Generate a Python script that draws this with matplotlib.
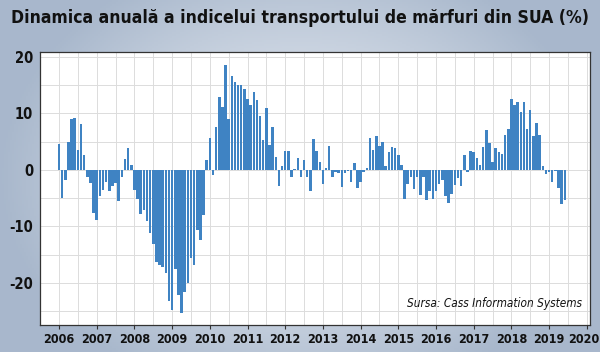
import numpy as np
import matplotlib
matplotlib.use("Agg")
import matplotlib.pyplot as plt
import matplotlib.transforms as mtransforms
from matplotlib.ticker import MultipleLocator

plt.rcParams["axes.unicode_minus"] = False

# annual change of the US freight index, monthly, Jan 2006 - Jun 2019 (%)
start_year = 2006
values_2006 = [4.6, -5.0, -1.8, 4.9, 9.0, 9.2, 3.5, 8.1, 2.6, -1.3, -2.4, -7.6]
values_2007 = [-8.9, -4.7, -3.6, -2.2, -3.8, -2.8, -2.3, -5.5, -1.3, 1.9, 3.9, 0.9]
values_2008 = [-3.6, -5.2, -7.8, -7.1, -9.1, -11.1, -13.1, -16.3, -16.8, -17.2, -18.3, -23.2]
values_2009 = [-24.7, -17.5, -22.2, -25.3, -21.5, -20.0, -15.6, -16.8, -10.6, -12.4, -7.9, 1.8]
values_2010 = [5.6, -0.9, 7.6, 12.9, 11.1, 18.6, 8.9, 16.6, 15.6, 15.0, 15.0, 14.2]
values_2011 = [12.6, 11.5, 13.8, 12.4, 9.5, 5.3, 11.0, 4.4, 7.6, 2.2, -2.9, 0.6]
values_2012 = [3.4, 3.4, -1.3, 0.1, 2.1, -1.3, 1.8, -1.2, -3.8, 5.4, 3.4, 1.4]
values_2013 = [-2.5, 0.3, 4.2, -1.3, -0.3, -0.5, -3.1, -0.5, -0.2, -2.1, 1.2, -3.2]
values_2014 = [-2.1, -0.3, 0.3, 5.6, 3.5, 6.0, 4.2, 4.9, 0.6, 3.2, 4.1, 3.8]
values_2015 = [2.6, 0.9, -5.1, -2.5, -1.2, -3.4, -1.2, -4.5, -1.3, -5.3, -3.8, -5.2]
values_2016 = [-3.8, -2.5, -1.8, -4.7, -5.8, -4.2, -2.6, -1.5, -2.9, 2.6, -0.4, 3.4]
values_2017 = [3.1, 2.0, 0.9, 4.0, 7.1, 4.7, 1.3, 3.8, 3.2, 2.8, 6.2, 7.2]
values_2018 = [12.6, 11.4, 12.0, 10.3, 11.9, 7.2, 10.6, 6.0, 8.2, 6.2, 0.6, -0.7]
values_2019 = [-0.3, -2.1, -0.2, -3.2, -6.0, -5.3]

values = (values_2006 + values_2007 + values_2008 + values_2009 + values_2010
          + values_2011 + values_2012 + values_2013 + values_2014 + values_2015
          + values_2016 + values_2017 + values_2018 + values_2019)
months = start_year + np.arange(len(values)) / 12.0
year_ticks = list(range(2006, 2021))
y_ticks = [-20, -10, 0, 10, 20]

title = "Dinamica anuală a indicelui transportului de mărfuri din SUA (%)"
source = "Sursa: Cass Information Systems"

bar_color = "#3f83c3"
font_kw = dict(family="DejaVu Sans", fontstretch="condensed")

fig = plt.figure(figsize=(6.0, 3.52), dpi=100)

# gradient backdrop: light in the middle, bluish grey at the edges
bg = fig.add_axes([0, 0, 1, 1], zorder=0)
gx, gy = np.meshgrid(np.linspace(-1, 1, 300), np.linspace(-1, 1, 176))
dist = np.clip(np.sqrt(gx ** 2 + (gy / 1.3) ** 2), 0, 1)
light = np.array([0.89, 0.91, 0.94])
dark = np.array([0.66, 0.72, 0.80])
img = light + (dark - light) * dist[..., None] ** 1.4
bg.imshow(img, aspect="auto", extent=[0, 1, 0, 1])
bg.axis("off")

t = fig.text(0.5, 0.948, title, ha="center", va="center", fontsize=15,
             fontweight="bold", color="#111111", **font_kw)
# shrink the title until it spans about 580 px
r = fig.canvas.get_renderer()
w = t.get_window_extent(r).width
if w > 580:
    t.set_fontsize(15 * 580 / w)

ax = fig.add_axes([0.067, 0.077, 0.916, 0.775], zorder=1)
ax.set_facecolor("white")
ax.bar(months, values, width=0.8 / 12, color=bar_color, align="center", zorder=3)

ax.set_xlim(2005.5, 2020.08)
ax.set_ylim(-27.4, 20.8)
ax.set_xticks(year_ticks)
ax.set_xticklabels([str(y) for y in year_ticks])
ax.xaxis.set_minor_locator(MultipleLocator(0.5))
ax.set_yticks(y_ticks)
ax.yaxis.set_minor_locator(MultipleLocator(5))

ax.grid(which="both", color="#dcdcdc", linewidth=0.7, zorder=0)
ax.set_axisbelow(True)
ax.tick_params(axis="x", which="major", length=3, width=0.8, color="#333333",
               labelsize=9, pad=3)
ax.tick_params(axis="x", which="minor", length=0)
ax.tick_params(axis="y", which="both", length=0, labelsize=10.5, pad=5)
for lab in ax.get_xticklabels() + ax.get_yticklabels():
    lab.set_fontweight("bold")
    lab.set_family("DejaVu Sans")
    lab.set_fontstretch("condensed")
    lab.set_color("#111111")

# nudge the last year label so it stays inside the picture
last = ax.get_xticklabels()[-1]
last.set_transform(last.get_transform()
                   + mtransforms.ScaledTranslation(-3 / 100, 0, fig.dpi_scale_trans))

for side in ax.spines.values():
    side.set_color("#333333")
    side.set_linewidth(0.9)

ax.text(0.985, 0.055, source, transform=ax.transAxes, ha="right", va="bottom",
        fontsize=8.5, style="italic", color="#111111", **font_kw)

fig.savefig("out.png", dpi=100)
